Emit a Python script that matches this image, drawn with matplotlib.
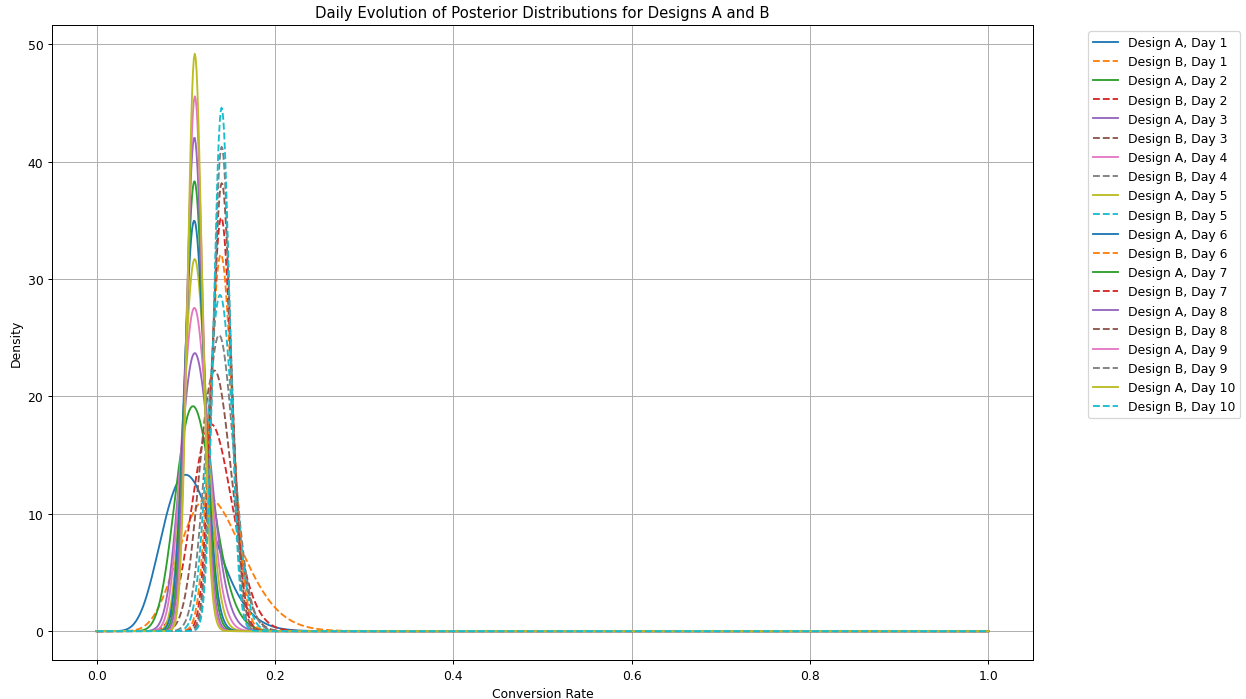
import numpy as np
import matplotlib
matplotlib.use("Agg")
import matplotlib.pyplot as plt
from math import lgamma

# daily traffic (new visitors / new conversions per day)
days = [1, 2, 3, 4, 5, 6, 7, 8, 9, 10]
visitors_a = [100, 122, 123, 120, 153, 131, 153, 183, 194, 210]
conversions_a = [10, 14, 14, 13, 17, 14, 17, 20, 22, 23]
visitors_b = [88, 130, 137, 118, 141, 161, 162, 167, 186, 215]
conversions_b = [11, 17, 19, 18, 20, 23, 23, 24, 26, 30]


def beta_pdf(x, a, b):
    # log form so big a, b don't overflow
    logc = lgamma(a + b) - lgamma(a) - lgamma(b)
    with np.errstate(divide="ignore"):
        y = np.exp(logc + (a - 1) * np.log(x) + (b - 1) * np.log(1 - x))
    return np.nan_to_num(y)


x = np.linspace(0, 1, 1000)
colors = plt.rcParams['axes.prop_cycle'].by_key()['color']

# 14 x 7.865 in at 89 dpi -> 1246 x 700 px
fig = plt.figure(figsize=(14, 7.865), dpi=89)
ax = fig.add_axes([0.0417, 0.0557, 0.7874, 0.9073])

cum_va = np.cumsum(visitors_a)
cum_ca = np.cumsum(conversions_a)
cum_vb = np.cumsum(visitors_b)
cum_cb = np.cumsum(conversions_b)

i = 0
for d in range(len(days)):
    # uniform prior Beta(1, 1)
    ya = beta_pdf(x, 1 + cum_ca[d], 1 + cum_va[d] - cum_ca[d])
    yb = beta_pdf(x, 1 + cum_cb[d], 1 + cum_vb[d] - cum_cb[d])
    ax.plot(x, ya, color=colors[i % 10], label=f'Design A, Day {days[d]}')
    i += 1
    ax.plot(x, yb, '--', color=colors[i % 10], label=f'Design B, Day {days[d]}')
    i += 1

ax.set_title('Daily Evolution of Posterior Distributions for Designs A and B')
ax.set_xlabel('Conversion Rate')
ax.set_ylabel('Density')
ax.legend(bbox_to_anchor=(1.05, 1), loc='upper left')
ax.grid(True)

fig.savefig('out.png', dpi=89)
